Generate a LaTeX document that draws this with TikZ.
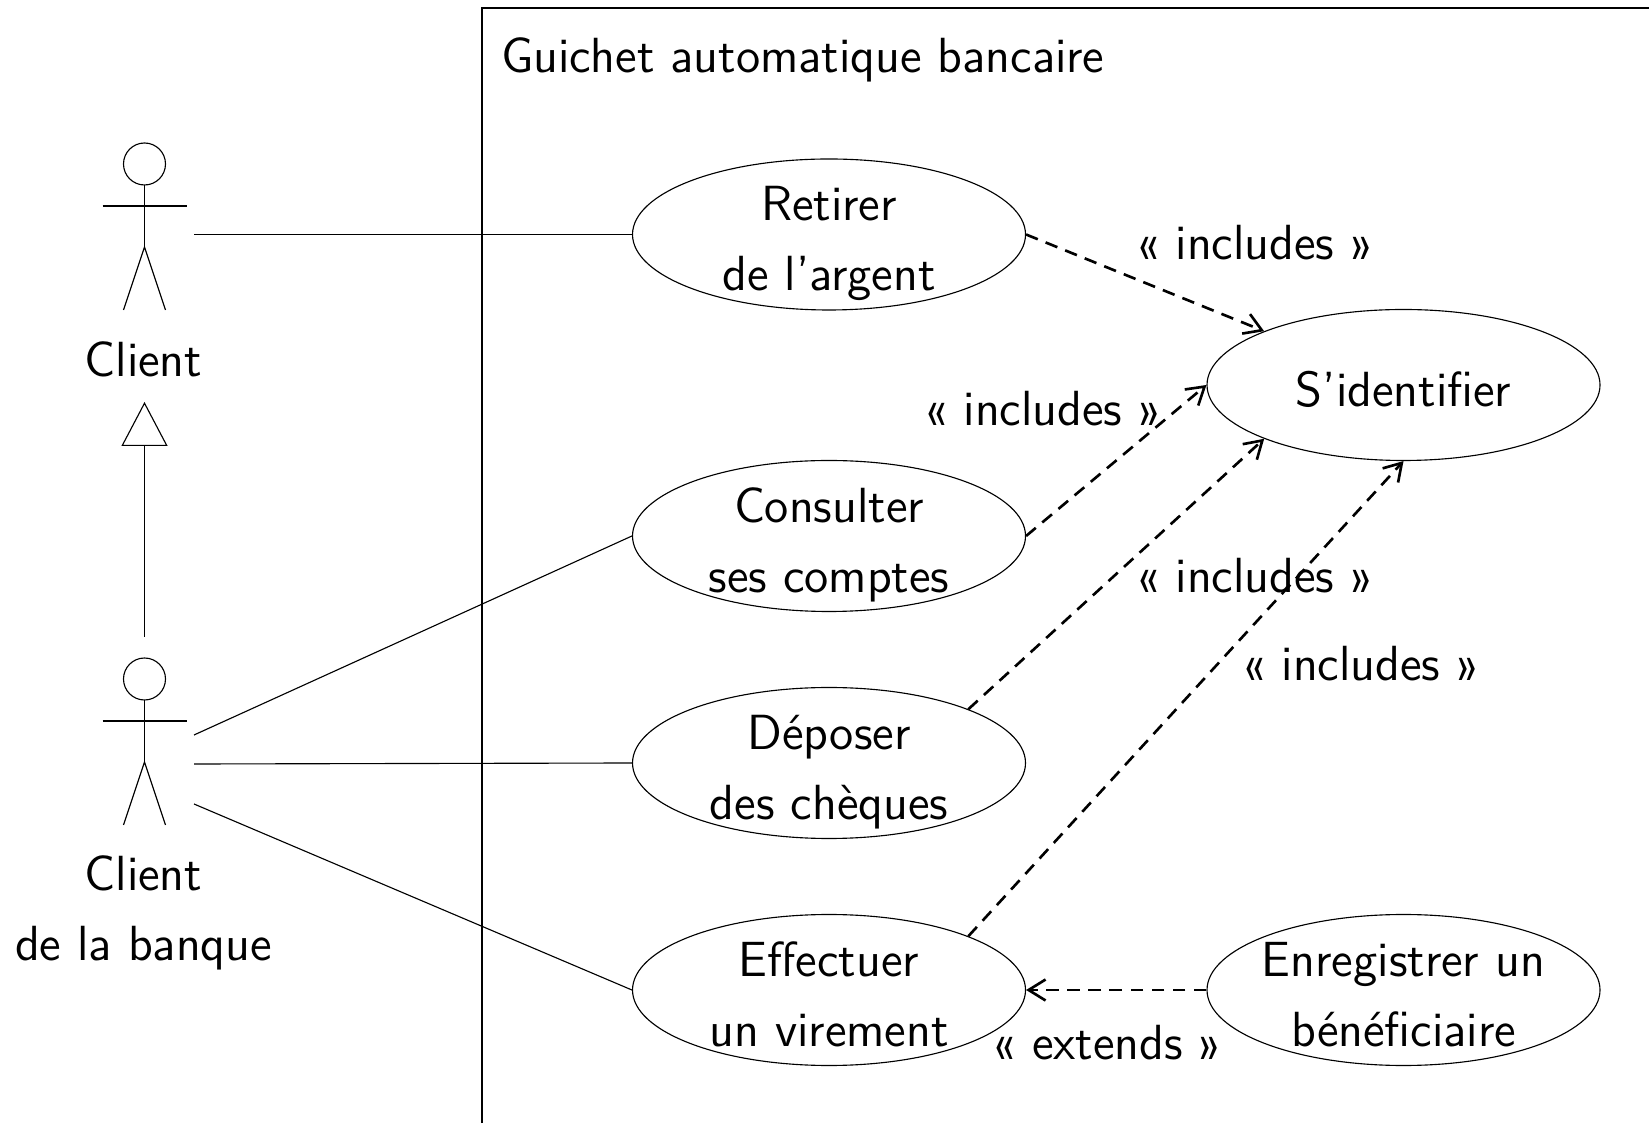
\documentclass[tikz,border=0pt]{standalone}
\usetikzlibrary{arrows.meta,shapes.geometric}
\tikzset{
  usecase/.style={draw, ellipse, minimum width=3.93cm, minimum height=1.51cm, inner xsep=-2pt, inner ysep=-2pt, align=center, text height=32.1pt, text depth=0pt},
  oneline/.style={text height=12.1pt},
  lbl/.style={inner sep=0pt, align=center},
  incl/.style={draw, dash pattern=on 3.6pt off 2.4pt, line width=0.75pt, -{Straight Barb[length=0.17cm,width=0.21cm]}},
}
\newcommand{\actor}[2]{
  \draw (#1,#2+0.70) circle (0.21);
  \draw (#1,#2+0.49) -- (#1,#2-0.13);
  \draw (#1-0.42,#2+0.28) -- (#1+0.42,#2+0.28);
  \draw (#1-0.21,#2-0.76) -- (#1,#2-0.13) -- (#1+0.21,#2-0.76);
}
\begin{document}
\begin{tikzpicture}[x=1cm,y=1cm,line width=0.32pt,font=\sffamily\fontsize{14.05}{20}\selectfont]
\useasboundingbox (0,0) rectangle (16.49,11.23);
% system
\draw (4.82,0) -- (4.82,11.15) -- (16.49,11.15);
\node[lbl,anchor=west] (title) at (5.005,10.63) {Guichet automatique bancaire};
% actors
\actor{1.445}{8.89}
\actor{1.445}{3.74}
\node[lbl] (client) at (1.435,7.64) {Client};
\node[lbl] (banque) at (1.435,2.1) {Client\\de la banque};
\coordinate (clientup) at (1.445,7.21);
\coordinate (clientdown) at (1.445,4.86);
\coordinate (aone) at (1.94,8.885);
\coordinate (atwo) at (1.94,3.88);
\coordinate (athree) at (1.94,3.59);
\coordinate (afour) at (1.94,3.19);
% use cases
\node[usecase] (retirer) at (8.29,8.885) {Retirer\\de l'argent};
\node[usecase] (consulter) at (8.29,5.87) {Consulter\\ses comptes};
\node[usecase] (deposer) at (8.29,3.6) {Déposer\\des chèques};
\node[usecase] (virement) at (8.29,1.33) {Effectuer\\un virement};
\node[usecase,oneline] (identifier) at (14.035,7.38) {S'identifier};
\node[usecase] (benef) at (14.035,1.33) {Enregistrer un\\bénéficiaire};
% links
\draw (aone) -- (retirer.west);
\draw (atwo) -- (consulter.west);
\draw (athree) -- (deposer.west);
\draw (afour) -- (virement.west);
\draw[-{Triangle[open,length=0.44cm,width=0.46cm]}] (clientdown) -- (clientup);
\draw[incl] (retirer.east) -- (identifier.north west);
\draw[incl] (consulter.east) -- (identifier.west);
\draw[incl] (deposer.north east) -- (identifier.south west);
\draw[incl] (virement.north east) -- (identifier.south);
\draw[incl] (benef.west) -- (virement.east);
% labels
\node[lbl] (ione) at (12.55,8.80) {« includes »};
\node[lbl] (itwo) at (10.43,7.14) {« includes »};
\node[lbl] (ithree) at (12.55,5.47) {« includes »};
\node[lbl] (ifour) at (13.61,4.59) {« includes »};
\node[lbl] (ext) at (11.075,0.80) {« extends »};
\end{tikzpicture}
\end{document}
